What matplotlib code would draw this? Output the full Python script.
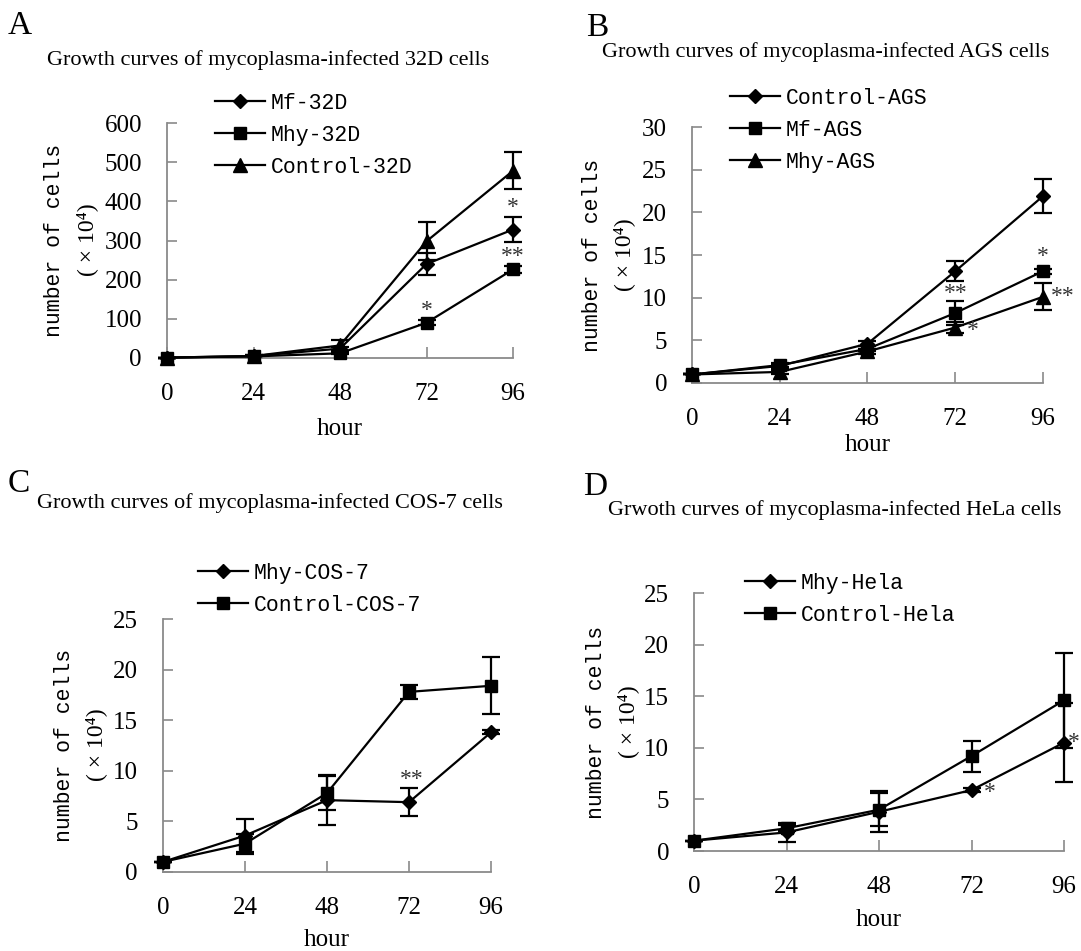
import numpy as np
import matplotlib
matplotlib.use('Agg')
import matplotlib.pyplot as plt

# time points (hours)
hours = [0, 24, 48, 72, 96]

# A: 32D cells
mf_32d = [1, 5, 24, 240, 328]
mf_32d_err = [0, 2, 5, 27, 31]
mhy_32d = [1, 4, 12, 90, 226]
mhy_32d_err = [0, 1, 3, 6, 8]
ctrl_32d = [1, 5, 32, 298, 478]
ctrl_32d_err = [0, 2, 14, 48, 47]

# B: AGS cells
ctrl_ags = [1.0, 2.0, 4.6, 13.1, 21.9]
ctrl_ags_err = [0, 0.2, 0.3, 1.2, 2.0]
mf_ags = [1.0, 2.1, 4.0, 8.2, 13.1]
mf_ags_err = [0, 0.2, 0.3, 1.4, 0.3]
mhy_ags = [1.0, 1.3, 3.7, 6.5, 10.1]
mhy_ags_err = [0, 0.2, 0.3, 0.6, 1.6]

# C: COS-7 cells
mhy_cos = [1.0, 3.6, 7.1, 6.9, 13.8]
mhy_cos_err = [0, 1.6, 2.5, 1.4, 0.2]
ctrl_cos = [1.0, 2.8, 7.8, 17.8, 18.4]
ctrl_cos_err = [0, 1.0, 1.7, 0.7, 2.8]

# D: HeLa cells
mhy_hela = [1.0, 1.8, 3.8, 5.9, 10.5]
mhy_hela_err = [0, 0.9, 2.0, 0.2, 3.8]
ctrl_hela = [1.0, 2.2, 4.0, 9.2, 14.6]
ctrl_hela_err = [0, 0.3, 1.6, 1.5, 4.6]

W, H = 1081, 951
SERIF = ['Liberation Serif', 'DejaVu Serif']
MONO = ['Liberation Mono', 'DejaVu Sans Mono']
AXCOL = '#8a8a8a'

fig = plt.figure(figsize=(W / 100, H / 100), dpi=100)


def box(l, t, r, b):
    return [l / W, 1 - b / H, (r - l) / W, (b - t) / H]


def fx(x):
    return x / W


def fy(y):
    return 1 - y / H


def panel(rect, series, ymax, ystep, legend_at, title, title_at, letter, letter_at,
          ylab_x, ylab_y, hour_y, stars):
    ax = fig.add_axes(box(*rect))
    for vals, errs, mk, ms, lab in series:
        ax.errorbar(hours, vals, yerr=errs, fmt='none', ecolor='black',
                    elinewidth=1.6, capsize=6.5, capthick=1.6, clip_on=False, zorder=2)
        ax.plot(hours, vals, color='black', lw=1.6, marker=mk, ms=ms,
                mfc='black', mec='black', label=lab, clip_on=False, zorder=3)
    ax.set_xlim(0, 96)
    ax.set_ylim(0, ymax)
    ax.set_xticks(hours)
    ax.set_yticks(np.arange(0, ymax + 0.001, ystep))
    for s in ['top', 'right']:
        ax.spines[s].set_visible(False)
    for s in ['left', 'bottom']:
        ax.spines[s].set_color(AXCOL)
        ax.spines[s].set_linewidth(1.3)
    ax.tick_params(axis='x', direction='in', length=8, width=1.2, color=AXCOL, pad=18)
    ax.tick_params(axis='y', direction='in', length=7, width=1.2, color=AXCOL, pad=18)
    for t in ax.get_xticklabels() + ax.get_yticklabels():
        t.set_fontfamily(SERIF)
        t.set_fontsize(18)
    ax.legend(loc='upper left', bbox_to_anchor=(fx(legend_at[0]), fy(legend_at[1])),
              bbox_transform=fig.transFigure, frameon=False, borderpad=0,
              borderaxespad=0, handlelength=2.3, handletextpad=0.3,
              labelspacing=0.5, prop={'family': MONO, 'size': 15.5})
    fig.text(fx(title_at[0]), fy(title_at[1]), title, ha='center', va='center',
             family=SERIF, fontsize=16)
    fig.text(fx(letter_at[0]), fy(letter_at[1]), letter, ha='left', va='center',
             family=SERIF, fontsize=24)
    fig.text(fx(ylab_x[0]), fy(ylab_y), 'number of cells', rotation=90, ha='center',
             va='center', family=MONO, fontsize=15.5)
    fig.text(fx(ylab_x[1]), fy(ylab_y), '( × 10⁴)', rotation=90, ha='center',
             va='center', family=SERIF, fontsize=17)
    fig.text(fx((rect[0] + rect[2]) / 2), fy(hour_y), 'hour', ha='center', va='center',
             family=SERIF, fontsize=18)
    for sx, sy, txt in stars:
        ax.text(sx, sy, txt, ha='center', va='center', family=SERIF, fontsize=17,
                color='#333333')
    return ax


panel((167, 123, 513, 358),
      [(mf_32d, mf_32d_err, 'D', 7, 'Mf-32D'),
       (mhy_32d, mhy_32d_err, 's', 9, 'Mhy-32D'),
       (ctrl_32d, ctrl_32d_err, '^', 10, 'Control-32D')],
      600, 100, (215, 93), 'Growth curves of mycoplasma-infected 32D cells', (268, 60),
      'A', (8, 26), (55, 87), 240, 429,
      [(96, 383, '*'), (96, 258, '**'), (72, 122, '*')])

panel((692, 127, 1043, 383),
      [(ctrl_ags, ctrl_ags_err, 'D', 7, 'Control-AGS'),
       (mf_ags, mf_ags_err, 's', 9, 'Mf-AGS'),
       (mhy_ags, mhy_ags_err, '^', 10, 'Mhy-AGS')],
      30, 5, (730, 88), 'Growth curves of mycoplasma-infected AGS cells', (826, 52),
      'B', (586, 28), (592, 624), 255, 445,
      [(96, 14.8, '*'), (72, 10.5, '**'), (76.9, 6.2, '*'), (101.5, 10.1, '**')])

panel((163, 619, 491, 872),
      [(mhy_cos, mhy_cos_err, 'D', 7, 'Mhy-COS-7'),
       (ctrl_cos, ctrl_cos_err, 's', 9, 'Control-COS-7')],
      25, 5, (198, 563), 'Growth curves of mycoplasma-infected COS-7 cells', (270, 503),
      'C', (8, 484), (64, 96), 745, 940,
      [(72.9, 9.1, '**')])

panel((694, 593, 1064, 851),
      [(mhy_hela, mhy_hela_err, 'D', 7, 'Mhy-Hela'),
       (ctrl_hela, ctrl_hela_err, 's', 9, 'Control-Hela')],
      25, 5, (745, 573), 'Grwoth curves of mycoplasma-infected HeLa cells', (835, 510),
      'D', (583, 487), (596, 628), 722, 920,
      [(76.8, 5.7, '*'), (98.6, 10.5, '*')])

fig.savefig('out.png', dpi=100)
